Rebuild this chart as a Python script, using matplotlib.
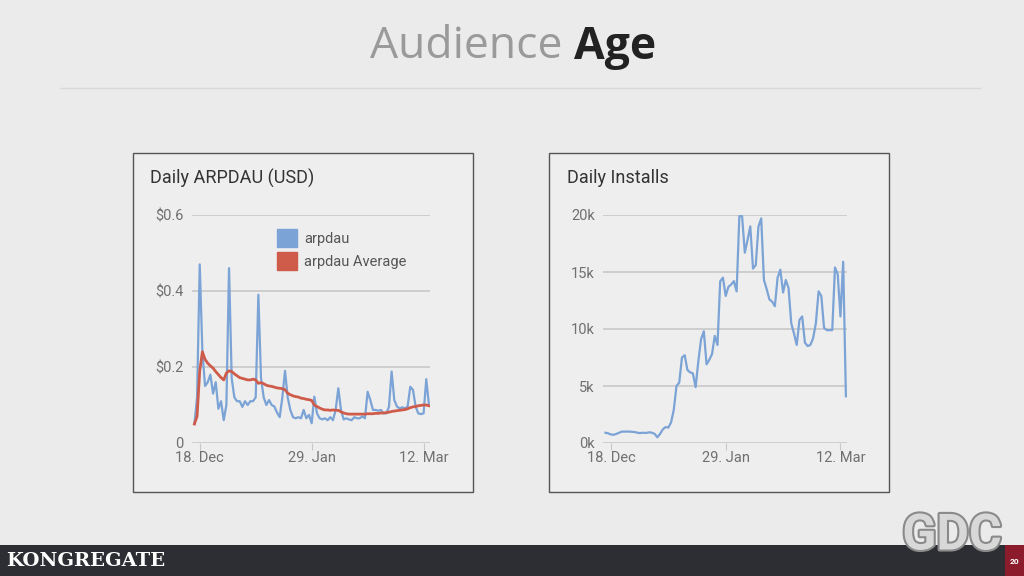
import numpy as np
import pandas as pd
import matplotlib
matplotlib.use("Agg")
from matplotlib import pyplot as plt
import matplotlib.dates as mdates
from matplotlib.patches import Rectangle, FancyBboxPatch
from matplotlib.lines import Line2D
import matplotlib.patheffects as pe

plt.rcParams['font.family'] = ['Roboto', 'DejaVu Sans']

# daily data, 16 Dec 2017 .. 14 Mar 2018
dates = pd.date_range("2017-12-16", periods=89, freq="D")

arpdau = [0.05, 0.12, 0.47, 0.24, 0.15, 0.16, 0.18, 0.13, 0.16, 0.09,
          0.11, 0.06, 0.10, 0.46, 0.17, 0.12, 0.11, 0.11, 0.095, 0.11,
          0.10, 0.11, 0.11, 0.12, 0.39, 0.17, 0.12, 0.10, 0.113, 0.10,
          0.096, 0.08, 0.068, 0.12, 0.19, 0.12, 0.087, 0.068, 0.065, 0.068,
          0.065, 0.087, 0.065, 0.074, 0.052, 0.122, 0.078, 0.065, 0.062, 0.065,
          0.06, 0.068, 0.06, 0.087, 0.144, 0.087, 0.062, 0.065, 0.062, 0.06,
          0.068, 0.065, 0.065, 0.07, 0.065, 0.135, 0.113, 0.087, 0.087, 0.085,
          0.087, 0.078, 0.078, 0.095, 0.188, 0.113, 0.096, 0.091, 0.094, 0.091,
          0.096, 0.148, 0.14, 0.096, 0.078, 0.076, 0.078, 0.168, 0.10]

arpdau_avg = [0.05, 0.07, 0.19, 0.24, 0.22, 0.21, 0.203, 0.197, 0.188, 0.18,
              0.172, 0.166, 0.184, 0.19, 0.188, 0.182, 0.177, 0.172, 0.17, 0.168,
              0.166, 0.166, 0.168, 0.166, 0.157, 0.159, 0.156, 0.152, 0.15, 0.149,
              0.147, 0.145, 0.144, 0.143, 0.14, 0.131, 0.127, 0.124, 0.122, 0.121,
              0.118, 0.117, 0.115, 0.114, 0.112, 0.10, 0.096, 0.092, 0.089, 0.087,
              0.087, 0.086, 0.087, 0.086, 0.086, 0.082, 0.079, 0.077, 0.076, 0.076,
              0.076, 0.076, 0.076, 0.076, 0.076, 0.077, 0.077, 0.077, 0.078, 0.078,
              0.079, 0.079, 0.08, 0.081, 0.083, 0.084, 0.085, 0.086, 0.087, 0.088,
              0.09, 0.093, 0.095, 0.096, 0.098, 0.099, 0.10, 0.10, 0.098]

installs_k = [0.9, 0.85, 0.75, 0.72, 0.8, 0.9, 1.0, 1.0, 1.0, 1.0,
              0.97, 0.95, 0.88, 0.88, 0.9, 0.88, 0.94, 0.9, 0.8, 0.5,
              0.8, 1.2, 1.4, 1.35, 1.8, 2.9, 5.0, 5.3, 7.5, 7.7,
              6.4, 6.2, 6.1, 4.9, 7.2, 9.1, 9.8, 6.9, 7.3, 7.8,
              9.4, 8.6, 14.2, 14.5, 12.9, 13.7, 13.9, 14.2, 13.3, 19.9,
              19.9, 16.7, 17.8, 19.0, 15.3, 15.6, 19.0, 19.7, 14.3, 13.5,
              12.6, 12.4, 12.0, 14.5, 15.2, 13.2, 14.3, 13.6, 10.5, 9.6,
              8.6, 10.8, 11.1, 8.8, 8.5, 8.6, 9.2, 10.5, 13.3, 12.9,
              10.1, 9.9, 9.9, 9.9, 15.4, 14.8, 11.1, 15.9, 4.1]
installs = [v * 1000 for v in installs_k]

ticks = pd.to_datetime(["2017-12-18", "2018-01-29", "2018-03-12"])
arp_yticks = [0, 0.2, 0.4, 0.6]
arp_ylabels = ["0", "$0.2", "$0.4", "$0.6"]
inst_yticks = [0, 5000, 10000, 15000, 20000]
inst_ylabels = ["0k", "5k", "10k", "15k", "20k"]

BG = "#ebebeb"
BLUE = "#7ba3d6"
RED = "#cf5b4a"
GRID = "#c8c8c8"
TXT = "#707070"

W, H = 1024, 576
fig = plt.figure(figsize=(10.24, 5.76), dpi=100, facecolor=BG)

def fx(px):
    return px / W

def fy(py):
    return 1 - py / H

# title
fig.text(fx(562), fy(47), "Audience", ha="right", va="center", fontsize=32,
         color="#9a9a9a", family=["Open Sans", "DejaVu Sans"])
fig.text(fx(574), fy(47), "Age", ha="left", va="center", fontsize=32,
         color="#222222", fontweight="bold", family=["Open Sans", "DejaVu Sans"])
fig.add_artist(Line2D([fx(60), fx(980)], [fy(88), fy(88)], color="#dadada", lw=1))

# panel boxes (behind the axes)
for x0 in (133, 549):
    fig.add_artist(Rectangle((fx(x0), fy(492)), fx(340), 339 / H, facecolor="#eeeeee",
                             edgecolor="#555555", lw=1.0, transform=fig.transFigure,
                             zorder=-5))

fig.text(fx(150), fy(178), "Daily ARPDAU (USD)", ha="left", va="center",
         fontsize=13, color="#333333")
fig.text(fx(567), fy(178), "Daily Installs", ha="left", va="center",
         fontsize=13, color="#333333")

def style_axes(ax, yticks, ylabels, ymax):
    ax.set_facecolor("none")
    for s in ax.spines.values():
        s.set_visible(False)
    ax.set_ylim(0, ymax)
    ax.set_yticks(yticks)
    ax.set_yticklabels(ylabels)
    ax.yaxis.grid(True, color=GRID, lw=1.2)
    ax.set_axisbelow(True)
    ax.tick_params(axis="y", length=0, colors=TXT, labelsize=10.5, pad=6)
    ax.set_xticks(ticks)
    ax.xaxis.set_major_formatter(mdates.DateFormatter("%d. %b"))
    ax.tick_params(axis="x", length=5, color=GRID, colors=TXT, labelsize=10.5, pad=1)
    ax.set_xlim(dates[0] - pd.Timedelta(days=0.9), dates[-1] + pd.Timedelta(days=0.4))

# left chart
ax1 = fig.add_axes([fx(192), fy(443), fx(430 - 192), (443 - 215) / H])
style_axes(ax1, arp_yticks, arp_ylabels, 0.6)
ax1.plot(dates, arpdau, color=BLUE, lw=1.6, label="arpdau")
ax1.plot(dates, arpdau_avg, color=RED, lw=2.0, label="arpdau Average")
handles = [FancyBboxPatch((0, 0), 1, 1, color=BLUE), FancyBboxPatch((0, 0), 1, 1, color=RED)]
ax1.legend(handles, ["arpdau", "arpdau Average"], loc="upper left",
           bbox_to_anchor=(0.30, 0.995), frameon=False, fontsize=10.5,
           labelcolor="#555555", handlelength=1.4, handleheight=1.5,
           handletextpad=0.5, labelspacing=0.35)

# right chart
ax2 = fig.add_axes([fx(603), fy(443), fx(847 - 603), (443 - 215) / H])
style_axes(ax2, inst_yticks, inst_ylabels, 20000)
ax2.plot(dates, installs, color=BLUE, lw=1.6, clip_on=False)

# footer
fig.add_artist(Rectangle((0, 0), 1, 31 / H, facecolor="#2c2e33", edgecolor="none",
                         transform=fig.transFigure))
fig.add_artist(Rectangle((fx(1005), 0), fx(19), 31 / H, facecolor="#8c1c2c",
                         edgecolor="none", transform=fig.transFigure))
fig.text(fx(6), fy(561), "KONGREGATE", ha="left", va="center", fontsize=14,
         color="white", fontweight="bold", family=["DejaVu Serif"])
fig.text(fx(1014), fy(561), "20", ha="center", va="center", fontsize=6,
         color="white", fontweight="bold")
fig.text(fx(952), fy(536), "GDC", ha="center", va="center", fontsize=36,
         color="#d8d8d8", fontweight="bold",
         path_effects=[pe.withStroke(linewidth=3, foreground="#8a8a8a")])

fig.savefig("out.png", dpi=100, facecolor=BG)
